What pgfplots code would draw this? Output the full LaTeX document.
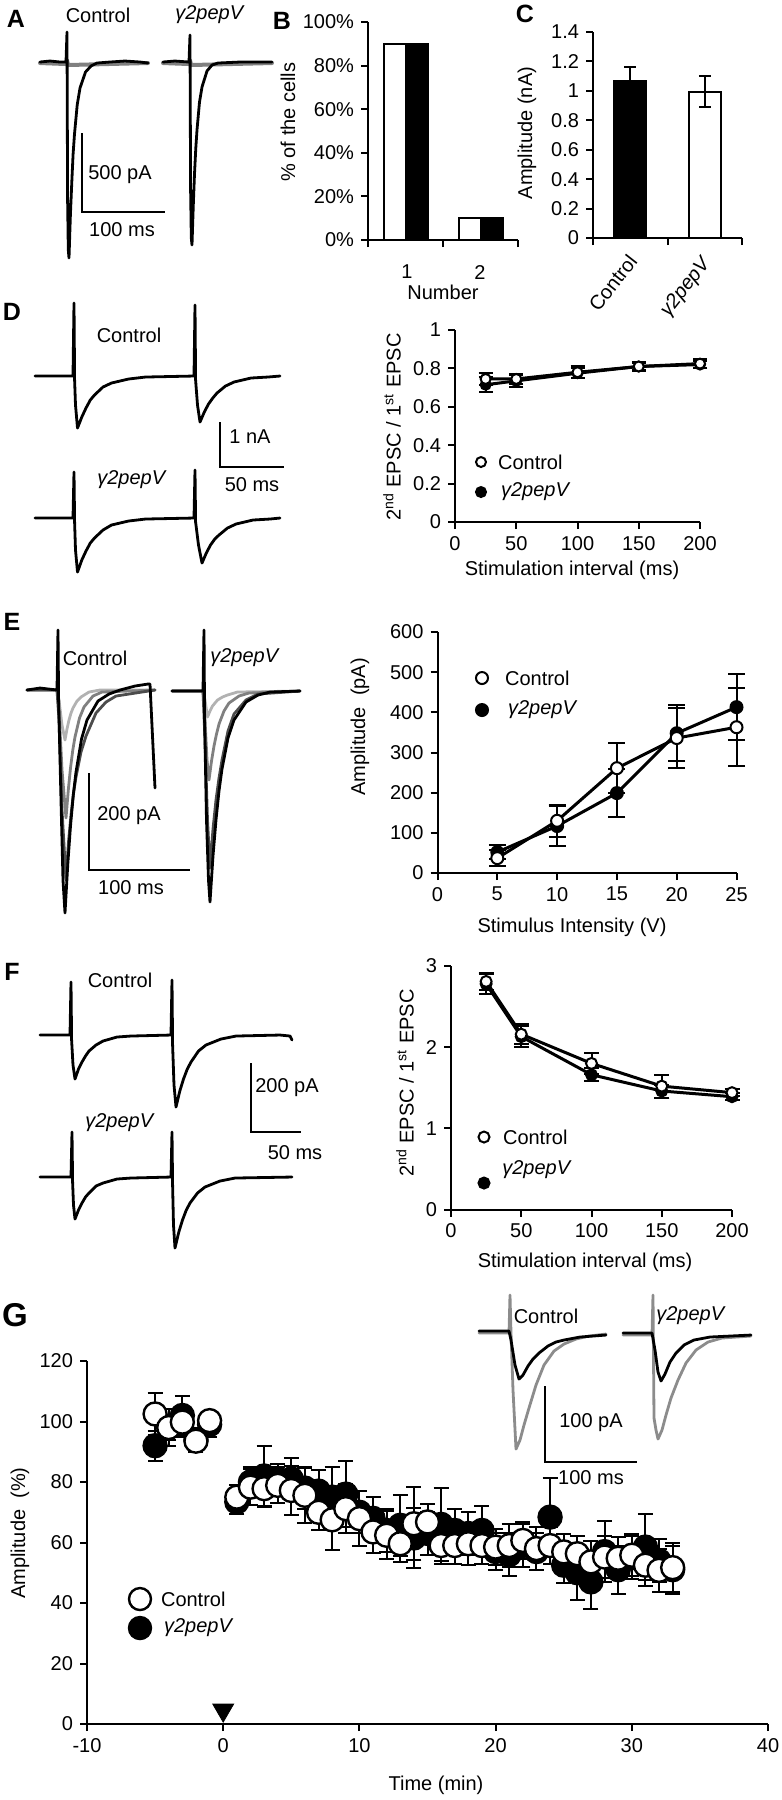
\documentclass[border=0pt]{standalone}
\usepackage{fontspec}
\setmainfont{Liberation Sans}
\usepackage{pgfplots}
\usepackage{pgfplotstable}
\pgfplotsset{compat=1.18}
\newcommand{\fs}{\fontsize{10}{12}\selectfont}
\newcommand{\gp}{\textit{γ2pepV}}
\pgfplotsset{
 tr/.style={mark=none, line width=1.4pt, line join=round, line cap=round},
 sb/.style={mark=none, line width=1pt, black},
 panel/.style={scale only axis, axis lines=left, axis line style={-, line width=1pt},
   tick align=outside, major tick length=3.5pt, tick style={line width=1pt, black},
   tick label style={font=\fs}, clip=false, anchor=south west},
 errs/.style={error bars/.cd, y dir=both, y explicit, error bar style={line width=1pt, black},
   error mark options={rotate=90, mark size=#1, line width=1pt, black}},
}
% D data
\pgfplotstableread{
x y e
25 0.745 0.03
50 0.745 0.025
100 0.78 0.03
150 0.81 0.025
200 0.825 0.025
}\Dc
\pgfplotstableread{
x y e
25 0.715 0.04
50 0.735 0.03
100 0.775 0.025
150 0.81 0.02
200 0.82 0.02
}\Dg
% E data
\pgfplotstableread{
x y e
5 37 20
10 130 40
15 261 62
20 336 75
25 363 97
}\Ec
\pgfplotstableread{
x y e
5 52 18
10 117 50
15 199 60
20 348 70
25 413 82
}\Eg
% F data
\pgfplotstableread{
x y e
25 2.81 0.11
50 2.16 0.12
100 1.80 0.13
150 1.52 0.14
200 1.44 0.04
}\Fc
\pgfplotstableread{
x y e
25 2.78 0.12
50 2.13 0.13
100 1.66 0.08
150 1.46 0.08
200 1.39 0.04
}\Fg
% G data
\pgfplotstableread{
x y e
-5 102.5 7
-4 98 4
-3 99.8 5
-2 93.5 3
-1 100.3 3
1 75 4
2 78.3 6
3 77.8 6
4 78.9 6
5 77.2 8
6 75.6 9
7 70 6
8 67.5 10
9 71.2 8
10 67.9 9
11 63.5 7
12 62.4 8
13 59.6 6
14 66.2 12
15 66.8 6
16 59 6
17 59 6
18 59.6 7
19 59 6
20 58.5 6
21 59 7
22 60.7 6
23 58 7
24 59 6
25 56.9 6
26 56.3 6
27 53.6 7
28 55.2 7
29 54.8 7
30 55.8 7
31 52.5 7
32 50.8 7
33 51.7 8
}\Gc
\pgfplotstableread{
x y e
-5 92 5
-4 98 6
-3 102 6.5
-2 94 4
-1 99 4
1 73.4 4
2 80 5
3 82 10
4 81 5
5 81 7
6 78 7
7 77 7
8 75 10
9 76 11
10 70 7
11 68 7
12 64 7
13 65.7 10
14 61.5 10
15 63 7
16 66 12
17 64 7
18 63 7
19 64 8
20 57 6
21 56 7
22 59 7
23 57 6
24 68.4 13
25 52.5 6
26 50 9
27 47 9
28 57 10
29 51 8
30 55 7
31 58.5 11
32 54 7
33 51 8
}\Gg
\begin{document}
\begin{tikzpicture}
\path[use as bounding box] (0,0) rectangle (391pt,-900pt);
% ================= overlay: traces, scale bars, texts =================
\begin{axis}[scale only axis, width=391pt, height=900pt, at={(0pt,0pt)}, anchor=north west,
  xmin=0, xmax=782, ymin=0, ymax=1800, y dir=reverse, hide axis, clip=false]
% ---- A traces
\addplot[tr, black!50, line width=2pt] coordinates {(40,63)(66,64)(67,60)(68,65)(148,63)};
\addplot[tr, black] coordinates {(40,62)(50,61)(60,62)(66,62)(67,32)(67.6,200)(68.3,250)(69,258)(70.4,215)(71.8,182)(73.1,154)(74.5,134)(77.2,105)(80,88)(85.5,72)(91,66)(97,63)(110,62)(125,61)(140,62)(148,63)};
\addplot[tr, black!50, line width=2pt] coordinates {(163,63)(189,64)(190,60)(191,65)(272,63)};
\addplot[tr, black] coordinates {(163,62)(175,61)(189,62)(190,35)(190.6,190)(191.3,238)(192,245)(193.3,205)(194.5,174)(195.8,148)(197,130)(199.5,102)(202,87)(207,71)(212,65)(218,63)(240,62)(272,62)};
\addplot[sb] coordinates {(82,133)(82,212)(165,212)};
% ---- D traces
\addplot[tr, black] coordinates {(35,376)(73,376)(74,303)(74.6,380)(75.5,405)(77.5,428)(81.8,417)(86,408)(90.3,400)(94.5,395)(103,387)(111.5,383)(128.5,379)(145.5,377)(194,376)(195,305)(195.6,380)(197.5,405)(200,422)(204.3,412)(208.5,404)(212.8,398)(217,393)(225.5,386)(234,382)(251,378)(268,377)(280,376)};
\addplot[tr, black] coordinates {(35,518)(73,518)(74,472)(74.6,522)(75.5,550)(77.5,572)(81.8,560)(86,551)(90.3,543)(94.5,538)(103,530)(111.5,525)(128.5,521)(145.5,519)(194,518)(195,470)(195.6,522)(198.5,545)(202,563)(206.3,553)(210.5,545)(214.8,539)(219,535)(227.5,528)(236,524)(253,520)(270,519)(280,518)};
\addplot[sb] coordinates {(220,422)(220,467)(284,467)};
% ---- E traces
\addplot[tr, black!30] coordinates {(27,690)(57,690)(59,700)(62,725)(65,740)(67,729)(69,720)(71,713)(73,708)(77,701)(81,697)(89,692)(100,690)(155,690)};
\addplot[tr, black!50] coordinates {(27,690)(57,690)(59,710)(62,770)(66,818)(68.3,790)(70.5,768)(72.8,750)(75,737)(79.5,718)(84,707)(93,696)(102,692)(155,690)};
\addplot[tr, black!70] coordinates {(27,690)(57,690)(59,720)(62,810)(66,880)(68.5,842)(71,815)(73.5,793)(76,777)(81,752)(86,736)(96,713)(106,702)(116,696)(155,690)};
\addplot[tr, black] coordinates {(27,690)(40,688)(57,690)(58,630)(58.6,700)(61,800)(63,880)(65,913)(67.8,864)(70.5,826)(73.3,795)(76,772)(81.5,739)(87,720)(98,701)(109,694)(120,690)(135,686)(148,684)(150,684)(155,788)};
\addplot[tr, black!30] coordinates {(172,691)(203,691)(205,700)(207.5,717)(210,711)(212.5,706)(215,703)(217.5,700)(222.5,697)(227.5,695)(237.5,692)(300,691)};
\addplot[tr, black!50] coordinates {(172,691)(203,691)(205,720)(207,760)(209,780)(211.5,761)(214,746)(216.5,734)(219,724)(224,711)(229,703)(239,696)(249,693)(300,691)};
\addplot[tr, black!70] coordinates {(172,691)(203,691)(205,740)(207.5,820)(210,868)(213,829)(216,800)(219,778)(222,760)(228,731)(234,714)(246,700)(258,694)(300,691)};
\addplot[tr, black] coordinates {(172,691)(203,691)(204,630)(204.6,720)(206.5,820)(208.5,880)(210,902)(213,856)(216,820)(219,791)(222,769)(228,738)(234,720)(246,702)(258,695)(270,692)(300,691)};
\addplot[sb] coordinates {(89,773)(89,870)(190,870)};
% ---- F traces
\addplot[tr, black] coordinates {(40,1035)(70,1035)(71,982)(71.6,1040)(73,1065)(75,1079)(78.5,1069)(82,1062)(85.5,1056)(89,1051)(96,1045)(103,1041)(117,1037)(131,1036)(171,1035)(172,980)(172.6,1045)(174,1085)(176,1107)(179.8,1091)(183.5,1079)(187.3,1069)(191,1062)(198.5,1051)(206,1045)(221,1039)(236,1036)(280,1035)(290,1036)(292,1040)};
\addplot[tr, black] coordinates {(40,1177)(71,1177)(72,1132)(72.6,1182)(73.5,1205)(75,1219)(78.5,1210)(82,1203)(85.5,1197)(89,1193)(96,1186)(103,1183)(117,1179)(131,1178)(171,1177)(172,1132)(172.6,1185)(173.5,1225)(175,1248)(178.8,1232)(182.5,1220)(186.3,1210)(190,1203)(197.5,1193)(205,1187)(220,1181)(235,1178)(292,1177)};
\addplot[sb] coordinates {(251,1063)(251,1132)(301,1132)};
% ---- G inset traces
\addplot[tr, black!45] coordinates {(479,1333)(509,1333)(510,1295)(511,1333)(513,1390)(516,1449)(520,1440)(524,1425)(529,1408)(536,1385)(544,1365)(554,1351)(564,1344)(576,1339)(589,1336)(606,1334)};
\addplot[tr, black] coordinates {(479,1331)(509,1331)(511,1340)(515,1365)(519,1379)(523,1375)(528,1366)(533,1359)(539,1353)(548,1346)(556,1342)(564,1340)(580,1337)(606,1335)};
\addplot[tr, black!45] coordinates {(623,1335)(652,1335)(653,1295)(654,1418)(656,1430)(658,1439)(662,1430)(666,1415)(671,1398)(678,1380)(686,1363)(696,1350)(708,1342)(722,1338)(751,1336)};
\addplot[tr, black] coordinates {(623,1333)(652,1333)(655,1350)(658,1372)(661,1381)(665,1374)(670,1362)(676,1353)(684,1345)(694,1340)(710,1337)(751,1335)};
\addplot[sb] coordinates {(545,1386)(545,1462)(637,1462)};
% ---- legend markers
\addplot[only marks, mark=*, mark size=2.5pt, mark options={fill=white, draw=black, line width=1pt}] coordinates {(481,462)};
\addplot[only marks, mark=*, mark size=2.5pt, mark options={fill=black, draw=black, line width=1pt}] coordinates {(481,492)};
\addplot[only marks, mark=*, mark size=3pt, mark options={fill=white, draw=black, line width=1pt}] coordinates {(482,678)};
\addplot[only marks, mark=*, mark size=3pt, mark options={fill=black, draw=black, line width=1pt}] coordinates {(482,710)};
\addplot[only marks, mark=*, mark size=2.75pt, mark options={fill=white, draw=black, line width=1pt}] coordinates {(484,1137)};
\addplot[only marks, mark=*, mark size=2.75pt, mark options={fill=black, draw=black, line width=1pt}] coordinates {(484,1183)};
\addplot[only marks, mark=*, mark size=5.5pt, mark options={fill=white, draw=black, line width=1.2pt}] coordinates {(140,1599)};
\addplot[only marks, mark=*, mark size=5.5pt, mark options={fill=black, draw=black, line width=1.2pt}] coordinates {(140,1628)};
% ---- texts
\tikzset{every node/.append style={font=\fs}}
\node[font=\bfseries\fontsize{12.5}{14}\selectfont] at (axis cs:16,19) {A};
\node at (axis cs:98,15) {Control};
\node at (axis cs:210,15) {\gp};
\node at (axis cs:120,175) {500 pA};
\node at (axis cs:122,230) {100 ms};
\node[font=\bfseries\fontsize{12.5}{14}\selectfont] at (axis cs:282,21) {B};
\node[rotate=90] at (axis cs:288,122) {\% of the cells};
\node at (axis cs:407,272) {1};
\node at (axis cs:480,272) {2};
\node at (axis cs:443,292) {Number};
\node[font=\bfseries\fontsize{12.5}{14}\selectfont] at (axis cs:525,14) {C};
\node[rotate=90] at (axis cs:527,133) {Amplitude (nA)};
\node[rotate=52, anchor=east] at (axis cs:637,252) {Control};
\node[rotate=52, anchor=east] at (axis cs:712,254) {\gp};
\node[font=\bfseries\fontsize{12.5}{14}\selectfont] at (axis cs:12,312) {D};
\node at (axis cs:129,335) {Control};
\node at (axis cs:132,480) {\gp};
\node at (axis cs:250,437) {1 nA};
\node at (axis cs:252,485) {50 ms};
\node[rotate=90] at (axis cs:392,427) {2\textsuperscript{nd} EPSC / 1\textsuperscript{st} EPSC};
\node at (axis cs:572,570) {Stimulation interval (ms)};
\node[anchor=west] at (axis cs:491,462) {Control};
\node[anchor=west] at (axis cs:494,492) {\gp};
\node[font=\bfseries\fontsize{12.5}{14}\selectfont] at (axis cs:12,622) {E};
\node at (axis cs:95,658) {Control};
\node at (axis cs:245,658) {\gp};
\node at (axis cs:129,816) {200 pA};
\node at (axis cs:131,888) {100 ms};
\node[rotate=90] at (axis cs:360,727) {Amplitude\ \ (pA)};
\node at (axis cs:572,927) {Stimulus Intensity (V)};
\node[anchor=west] at (axis cs:498,678) {Control};
\node[anchor=west] at (axis cs:501,710) {\gp};
\node[font=\bfseries\fontsize{12.5}{14}\selectfont] at (axis cs:12,972) {F};
\node at (axis cs:120,980) {Control};
\node at (axis cs:120,1123) {\gp};
\node at (axis cs:287,1088) {200 pA};
\node at (axis cs:295,1153) {50 ms};
\node[rotate=90] at (axis cs:405,1083) {2\textsuperscript{nd} EPSC / 1\textsuperscript{st} EPSC};
\node at (axis cs:585,1262) {Stimulation interval (ms)};
\node[anchor=west] at (axis cs:496,1137) {Control};
\node at (axis cs:537,1170) {\gp};
\node[font=\bfseries\fontsize{16.5}{18}\selectfont] at (axis cs:15,1315) {G};
\node[rotate=90] at (axis cs:20,1533) {Amplitude\ \ (\%)};
\node at (axis cs:436,1785) {Time (min)};
\node[anchor=west] at (axis cs:154,1599) {Control};
\node[anchor=west] at (axis cs:157,1628) {\gp};
\node at (axis cs:546,1316) {Control};
\node at (axis cs:691,1316) {\gp};
\node at (axis cs:591,1423) {100 pA};
\node at (axis cs:591,1478) {100 ms};
\end{axis}
% ================= B =================
\begin{axis}[panel, width=75pt, height=109pt, at={(184pt,-120pt)},
  xmin=0.5, xmax=2.5, ymin=0, ymax=100, xtick={0.5,1.5,2.5}, xticklabels={,,},
  ytick={0,20,40,60,80,100}, yticklabels={0\%,20\%,40\%,60\%,80\%,100\%}]
\addplot[ybar, bar width=11pt, bar shift=-5.5pt, fill=white, draw=black, line width=1pt] coordinates {(1,90) (2,10)};
\addplot[ybar, bar width=11pt, bar shift=5.5pt, fill=black, draw=black, line width=1pt] coordinates {(1,90) (2,10)};
\end{axis}
% ================= C =================
\begin{axis}[panel, width=74.5pt, height=103pt, at={(296.5pt,-119pt)},
  xmin=0.5, xmax=2.5, ymin=0, ymax=1.4, xtick={0.5,1.5,2.5}, xticklabels={,,},
  ytick={0,0.2,0.4,0.6,0.8,1,1.2,1.4}, yticklabels={0,0.2,0.4,0.6,0.8,1,1.2,1.4}]
\addplot[ybar, bar width=16pt, fill=black, draw=black, line width=1pt, errs=3pt] coordinates {(1,1.07) +- (0,0.095)};
\addplot[ybar, bar width=16pt, fill=white, draw=black, line width=1pt, errs=3pt] coordinates {(2,0.994) +- (0,0.105)};
\end{axis}
% ================= D =================
\begin{axis}[panel, width=122.5pt, height=96pt, at={(227.5pt,-261pt)},
  xmin=0, xmax=200, ymin=0, ymax=1, xtick={0,50,100,150,200}, xticklabels={0,50,100,150,200},
  ytick={0,0.2,0.4,0.6,0.8,1}, yticklabels={0,0.2,0.4,0.6,0.8,1}]
\addplot[black, line width=1.5pt, mark=none, errs=3.5pt] table[x=x, y=y, y error=e] {\Dg};
\addplot[black, line width=1.5pt, mark=none, errs=3.5pt] table[x=x, y=y, y error=e] {\Dc};
\addplot[only marks, mark=*, mark size=2.5pt, mark options={fill=black, draw=black, line width=1pt}] table[x=x, y=y] {\Dg};
\addplot[only marks, mark=*, mark size=2.5pt, mark options={fill=white, draw=black, line width=1pt}] table[x=x, y=y] {\Dc};
\end{axis}
% ================= E =================
\begin{axis}[panel, width=149.5pt, height=120.5pt, at={(218.75pt,-436.5pt)},
  xmin=0, xmax=25, ymin=0, ymax=600, xtick={0,5,10,15,20,25}, xticklabels={0,5,10,15,20,25},
  ytick={0,100,200,300,400,500,600}, yticklabels={0,100,200,300,400,500,600}]
\addplot[black, line width=1.5pt, mark=none, errs=4.25pt] table[x=x, y=y, y error=e] {\Eg};
\addplot[black, line width=1.5pt, mark=none, errs=4.25pt] table[x=x, y=y, y error=e] {\Ec};
\addplot[only marks, mark=*, mark size=3pt, mark options={fill=black, draw=black, line width=1pt}] table[x=x, y=y] {\Eg};
\addplot[only marks, mark=*, mark size=3pt, mark options={fill=white, draw=black, line width=1pt}] table[x=x, y=y] {\Ec};
\end{axis}
% ================= F =================
\begin{axis}[panel, width=140.5pt, height=121.75pt, at={(225.5pt,-604.75pt)},
  xmin=0, xmax=200, ymin=0, ymax=3, xtick={0,50,100,150,200}, xticklabels={0,50,100,150,200},
  ytick={0,1,2,3}, yticklabels={0,1,2,3}]
\addplot[black, line width=1.5pt, mark=none, errs=3.75pt] table[x=x, y=y, y error=e] {\Fg};
\addplot[black, line width=1.5pt, mark=none, errs=3.75pt] table[x=x, y=y, y error=e] {\Fc};
\addplot[only marks, mark=*, mark size=2.75pt, mark options={fill=black, draw=black, line width=1pt}] table[x=x, y=y] {\Fg};
\addplot[only marks, mark=*, mark size=2.75pt, mark options={fill=white, draw=black, line width=1pt}] table[x=x, y=y] {\Fc};
\end{axis}
% ================= G =================
\begin{axis}[panel, width=340.5pt, height=181.5pt, at={(43.5pt,-862pt)},
  xmin=-10, xmax=40, ymin=0, ymax=120, xtick={-10,0,10,20,30,40}, xticklabels={-10,0,10,20,30,40},
  ytick={0,20,40,60,80,100,120}, yticklabels={0,20,40,60,80,100,120}]
\addplot[only marks, mark=none, black, errs=3.75pt] table[x=x, y=y, y error=e] {\Gg};
\addplot[only marks, mark=*, mark size=5.75pt, mark options={fill=black, draw=black, line width=1.2pt}] table[x=x, y=y] {\Gg};
\addplot[only marks, mark=none, black, errs=3.75pt] table[x=x, y=y, y error=e] {\Gc};
\addplot[only marks, mark=*, mark size=5.75pt, mark options={fill=white, draw=black, line width=1.2pt}] table[x=x, y=y] {\Gc};
\addplot[only marks, mark=triangle*, mark size=6pt, mark options={rotate=180, fill=black, draw=black}] coordinates {(0,4.6)};
\end{axis}
\end{tikzpicture}
\end{document}
